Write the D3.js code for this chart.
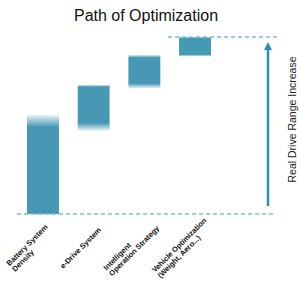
<!DOCTYPE html>
<html>
<head>
<meta charset="utf-8">
<script src="https://cdn.jsdelivr.net/npm/d3@7"></script>
<style>
  body { margin: 0; background: #fff; }
  text { font-family: "Liberation Sans", Arial, sans-serif; }
</style>
</head>
<body>
<svg id="chart" width="300" height="287"></svg>
<script>
// waterfall steps, in % of the total range gain
const categories = [
  ["Battery System", "Density"],
  ["e-Drive System"],
  ["Intelligent", "Operation Strategy"],
  ["Vehicle Optimization", "(Weight, Aero...)"]
];
const stepLow = [0, 47, 71, 89];
const stepHigh = [56, 73, 90, 100];
const axisLabel = "Real Drive Range Increase";
const title = "Path of Optimization";

// soft edges (px) at top / bottom of each bar
const fadeTop = [12, 2, 3, 1];
const fadeBottom = [0, 8, 5, 2];

const barColor = "#4698b4";
const dashColor = "#6fc2da";
const arrowColor = "#2e8fb4";

const svg = d3.select("#chart");

const x = d3.scaleBand()
  .domain(d3.range(categories.length))
  .range([27, 211])
  .paddingInner(0.37)
  .paddingOuter(0);

const y = d3.scaleLinear()
  .domain([0, 100])
  .range([214, 37]);

const defs = svg.append("defs");

categories.forEach((c, i) => {
  const top = y(stepHigh[i]), bot = y(stepLow[i]);
  const g = defs.append("linearGradient")
    .attr("id", "grad" + i)
    .attr("gradientUnits", "userSpaceOnUse")
    .attr("x1", 0).attr("x2", 0)
    .attr("y1", top).attr("y2", bot);
  const h = bot - top;
  g.append("stop").attr("offset", 0).attr("stop-color", barColor).attr("stop-opacity", fadeTop[i] ? 0.1 : 1);
  g.append("stop").attr("offset", fadeTop[i] / h).attr("stop-color", barColor).attr("stop-opacity", 1);
  g.append("stop").attr("offset", 1 - fadeBottom[i] / h).attr("stop-color", barColor).attr("stop-opacity", 1);
  g.append("stop").attr("offset", 1).attr("stop-color", barColor).attr("stop-opacity", fadeBottom[i] ? 0.1 : 1);
});

// bars
svg.append("g")
  .selectAll("rect")
  .data(categories)
  .join("rect")
    .attr("x", (d, i) => x(i))
    .attr("width", x.bandwidth())
    .attr("y", (d, i) => y(stepHigh[i]))
    .attr("height", (d, i) => y(stepLow[i]) - y(stepHigh[i]))
    .attr("fill", (d, i) => `url(#grad${i})`);

// dashed reference lines
svg.append("line")
  .attr("x1", 17).attr("x2", 273)
  .attr("y1", y(0)).attr("y2", y(0))
  .attr("stroke", dashColor).attr("stroke-width", 1.5)
  .attr("stroke-dasharray", "4,3");

svg.append("line")
  .attr("x1", 168).attr("x2", 278)
  .attr("y1", y(100)).attr("y2", y(100))
  .attr("stroke", dashColor).attr("stroke-width", 1.5)
  .attr("stroke-dasharray", "4,3");

// arrow
const ax = 268;
svg.append("line")
  .attr("x1", ax).attr("x2", ax)
  .attr("y1", y(0) - 8).attr("y2", y(100) + 10)
  .attr("stroke", arrowColor).attr("stroke-width", 2.5);
svg.append("path")
  .attr("d", `M${ax},${y(100) + 5} L${ax - 4},${y(100) + 13} L${ax + 4},${y(100) + 13} Z`)
  .attr("fill", arrowColor);

svg.append("text")
  .attr("transform", `translate(296,${(y(0) + y(100)) / 2 - 6}) rotate(-90)`)
  .attr("text-anchor", "middle")
  .attr("font-size", 10.5)
  .attr("fill", "#222")
  .text(axisLabel);

// title
svg.append("text")
  .attr("x", 146).attr("y", 21)
  .attr("text-anchor", "middle")
  .attr("font-size", 16)
  .attr("fill", "#111")
  .text(title);

// category labels, rotated blocks
const lineH = 8;
const lab = svg.append("g")
  .selectAll("g")
  .data(categories)
  .join("g")
    .attr("transform", (d, i) => `translate(${x(i) + x.bandwidth() / 2 - 13},248) rotate(-45)`);

lab.each(function(lines) {
  const g = d3.select(this);
  const t = g.selectAll("text")
    .data(lines)
    .join("text")
      .attr("font-size", 7.5)
      .attr("font-weight", "bold")
      .attr("fill", "#111")
      .attr("y", (l, j) => (j - (lines.length - 1) / 2) * lineH + 2.5)
      .text(l => l);
  const w = d3.max(t.nodes(), n => n.getComputedTextLength());
  t.attr("x", -w / 2);
});
</script>
</body>
</html>
